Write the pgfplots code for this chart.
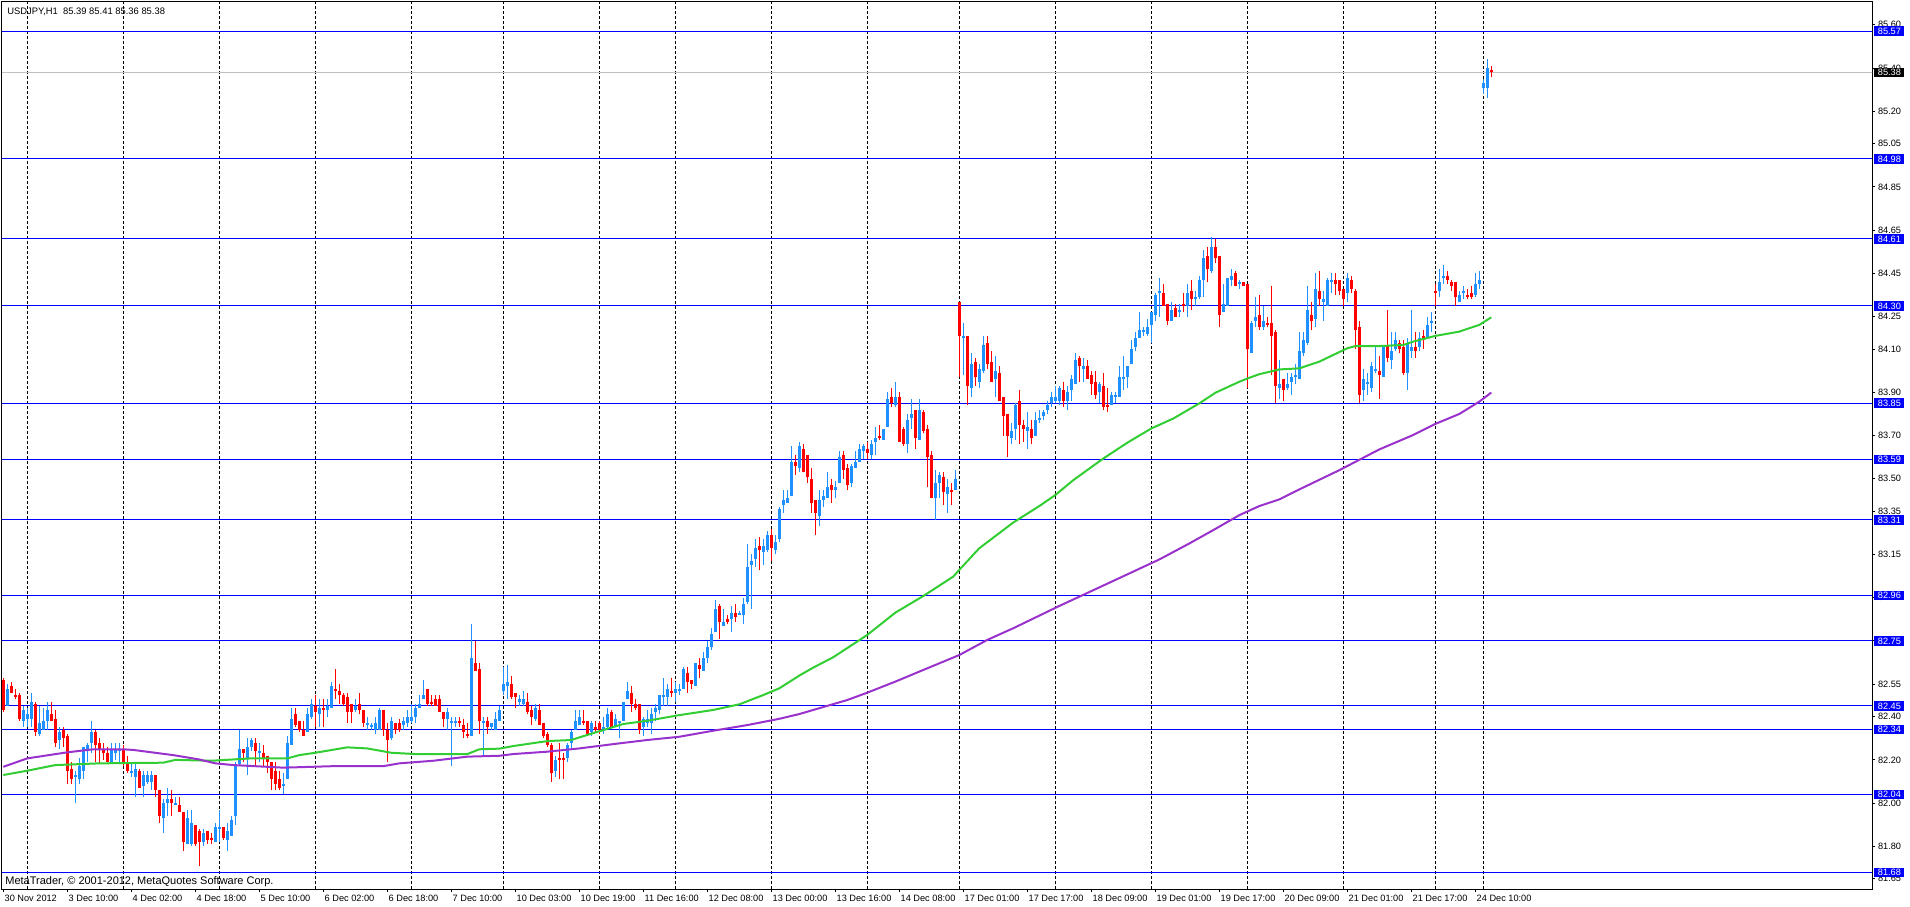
\documentclass[border=0pt]{standalone}
\usepackage{fontspec}
\setmainfont{Liberation Sans}
\usepackage{pgfplots}
\usepackage{pgfplotstable}
\pgfplotsset{compat=1.18}
\definecolor{mtblue}{RGB}{0,0,255}
\definecolor{ma1}{RGB}{50,205,50}
\definecolor{ma2}{RGB}{153,50,204}
\definecolor{bidgray}{RGB}{192,192,192}

\pgfplotstableread{
x o h l c
0 82.57 82.58 82.42 82.43
1 82.45 82.55 82.45 82.53
2 82.54 82.56 82.51 82.51
3 82.50 82.53 82.48 82.49
4 82.50 82.51 82.38 82.39
5 82.38 82.45 82.35 82.43
6 82.39 82.44 82.35 82.41
7 82.39 82.51 82.35 82.47
8 82.46 82.47 82.31 82.33
9 82.32 82.45 82.31 82.37
10 82.34 82.44 82.34 82.38
11 82.38 82.47 82.34 82.43
12 82.41 82.47 82.38 82.38
13 82.39 82.43 82.26 82.28
14 82.29 82.35 82.25 82.33
15 82.34 82.35 82.26 82.30
16 82.31 82.32 82.09 82.15
17 82.16 82.19 82.09 82.11
18 82.12 82.15 82.00 82.13
19 82.11 82.21 82.09 82.17
20 82.15 82.26 82.11 82.26
21 82.24 82.28 82.19 82.27
22 82.28 82.38 82.23 82.33
23 82.33 82.34 82.19 82.27
24 82.28 82.30 82.18 82.25
25 82.25 82.28 82.20 82.23
26 82.23 82.26 82.19 82.19
27 82.19 82.28 82.19 82.25
28 82.23 82.28 82.20 82.25
29 82.24 82.28 82.19 82.25
30 82.25 82.27 82.17 82.19
31 82.18 82.22 82.14 82.15
32 82.14 82.18 82.12 82.15
33 82.12 82.18 82.03 82.16
34 82.15 82.16 82.07 82.07
35 82.08 82.15 82.03 82.13
36 82.10 82.15 82.09 82.13
37 82.10 82.15 82.06 82.13
38 82.13 82.13 82.03 82.06
39 82.06 82.06 81.91 81.94
40 81.93 82.02 81.86 82.00
41 82.00 82.07 81.94 82.02
42 82.02 82.06 81.94 82.00
43 81.99 82.03 81.99 82.00
44 81.99 82.03 81.96 81.96
45 81.96 81.96 81.78 81.82
46 81.81 81.97 81.81 81.93
47 81.81 81.97 81.80 81.91
48 81.90 81.90 81.80 81.81
49 81.87 81.88 81.71 81.82
50 81.82 81.88 81.80 81.86
51 81.87 81.87 81.81 81.83
52 81.84 81.86 81.81 81.83
53 81.82 81.91 81.82 81.89
54 81.88 81.97 81.82 81.89
55 81.89 81.89 81.83 81.84
56 81.83 81.91 81.78 81.87
57 81.85 81.94 81.85 81.92
58 81.94 82.19 81.90 82.18
59 82.18 82.34 82.17 82.25
60 82.25 82.25 82.19 82.23
61 82.21 82.30 82.13 82.26
62 82.26 82.30 82.24 82.29
63 82.28 82.30 82.17 82.24
64 82.23 82.28 82.19 82.24
65 82.23 82.27 82.17 82.21
66 82.22 82.22 82.14 82.19
67 82.19 82.19 82.06 82.11
68 82.15 82.19 82.06 82.09
69 82.11 82.15 82.06 82.07
70 82.08 82.14 82.04 82.09
71 82.11 82.31 82.11 82.28
72 82.27 82.44 82.27 82.39
73 82.41 82.44 82.35 82.36
74 82.38 82.38 82.33 82.34
75 82.34 82.38 82.31 82.31
76 82.33 82.44 82.33 82.41
77 82.40 82.48 82.39 82.46
78 82.45 82.50 82.35 82.42
79 82.41 82.48 82.35 82.44
80 82.44 82.48 82.35 82.43
81 82.43 82.48 82.40 82.45
82 82.44 82.56 82.44 82.54
83 82.53 82.62 82.48 82.52
84 82.52 82.55 82.46 82.50
85 82.50 82.51 82.45 82.46
86 82.49 82.51 82.37 82.42
87 82.46 82.46 82.37 82.42
88 82.43 82.48 82.42 82.45
89 82.46 82.51 82.41 82.43
90 82.43 82.43 82.35 82.37
91 82.36 82.40 82.34 82.37
92 82.35 82.37 82.34 82.36
93 82.34 82.40 82.32 82.37
94 82.34 82.44 82.34 82.43
95 82.43 82.43 82.31 82.34
96 82.34 82.37 82.19 82.29
97 82.30 82.40 82.29 82.38
98 82.37 82.37 82.32 82.34
99 82.37 82.39 82.33 82.34
100 82.36 82.40 82.34 82.38
101 82.37 82.43 82.35 82.40
102 82.38 82.46 82.37 82.40
103 82.40 82.46 82.37 82.44
104 82.44 82.50 82.44 82.46
105 82.48 82.57 82.48 82.50
106 82.53 82.53 82.45 82.46
107 82.47 82.50 82.45 82.46
108 82.48 82.50 82.45 82.45
109 82.48 82.50 82.42 82.42
110 82.42 82.42 82.35 82.39
111 82.39 82.44 82.34 82.42
112 82.37 82.40 82.17 82.38
113 82.37 82.40 82.35 82.38
114 82.38 82.40 82.35 82.37
115 82.36 82.39 82.30 82.33
116 82.32 82.37 82.30 82.31
117 82.31 82.83 82.31 82.67
118 82.65 82.75 82.61 82.61
119 82.62 82.65 82.32 82.38
120 82.37 82.40 82.22 82.38
121 82.38 82.40 82.32 82.35
122 82.35 82.37 82.34 82.37
123 82.34 82.42 82.34 82.39
124 82.38 82.45 82.38 82.43
125 82.52 82.63 82.50 82.55
126 82.54 82.64 82.48 82.56
127 82.55 82.59 82.48 82.49
128 82.51 82.51 82.44 82.49
129 82.47 82.50 82.45 82.48
130 82.46 82.52 82.45 82.48
131 82.47 82.51 82.41 82.42
132 82.43 82.45 82.36 82.40
133 82.39 82.46 82.38 82.44
134 82.43 82.46 82.36 82.36
135 82.37 82.37 82.30 82.31
136 82.32 82.33 82.26 82.27
137 82.27 82.28 82.10 82.14
138 82.15 82.22 82.12 82.20
139 82.21 82.28 82.11 82.20
140 82.21 82.23 82.11 82.20
141 82.21 82.28 82.19 82.27
142 82.28 82.34 82.25 82.33
143 82.34 82.43 82.34 82.38
144 82.36 82.43 82.36 82.40
145 82.38 82.43 82.36 82.37
146 82.38 82.38 82.31 82.32
147 82.33 82.38 82.31 82.37
148 82.35 82.38 82.33 82.34
149 82.37 82.38 82.32 82.34
150 82.34 82.40 82.32 82.35
151 82.35 82.44 82.34 82.41
152 82.42 82.43 82.35 82.35
153 82.35 82.41 82.35 82.39
154 82.37 82.38 82.30 82.38
155 82.38 82.47 82.38 82.47
156 82.48 82.56 82.48 82.52
157 82.51 82.54 82.42 82.46
158 82.46 82.48 82.43 82.44
159 82.46 82.46 82.32 82.34
160 82.35 82.40 82.31 82.39
161 82.37 82.43 82.35 82.39
162 82.37 82.44 82.32 82.41
163 82.42 82.46 82.38 82.44
164 82.43 82.50 82.41 82.50
165 82.49 82.58 82.45 82.50
166 82.49 82.55 82.45 82.53
167 82.52 82.58 82.49 82.51
168 82.51 82.56 82.47 82.53
169 82.52 82.55 82.50 82.53
170 82.53 82.63 82.53 82.62
171 82.60 82.63 82.51 82.56
172 82.57 82.57 82.53 82.55
173 82.54 82.65 82.54 82.65
174 82.64 82.67 82.58 82.62
175 82.61 82.70 82.61 82.67
176 82.67 82.75 82.65 82.72
177 82.72 82.81 82.71 82.78
178 82.79 82.94 82.79 82.90
179 82.91 82.92 82.76 82.84
180 82.82 82.90 82.82 82.84
181 82.85 82.87 82.83 82.84
182 82.85 82.91 82.79 82.88
183 82.88 82.92 82.84 82.86
184 82.87 82.89 82.87 82.88
185 82.87 82.95 82.83 82.92
186 82.93 83.20 82.92 83.09
187 83.10 83.15 82.90 83.12
188 83.13 83.22 83.09 83.18
189 83.19 83.23 83.08 83.17
190 83.16 83.22 83.10 83.19
191 83.17 83.26 83.16 83.24
192 83.24 83.27 83.12 83.18
193 83.17 83.24 83.15 83.21
194 83.22 83.37 83.21 83.36
195 83.38 83.45 83.34 83.40
196 83.39 83.45 83.39 83.41
197 83.42 83.65 83.42 83.58
198 83.58 83.61 83.52 83.56
199 83.55 83.67 83.53 83.65
200 83.64 83.66 83.53 83.53
201 83.61 83.61 83.48 83.51
202 83.50 83.55 83.34 83.39
203 83.40 83.40 83.24 83.34
204 83.33 83.45 83.28 83.40
205 83.40 83.45 83.37 83.42
206 83.41 83.53 83.41 83.46
207 83.47 83.50 83.39 83.45
208 83.45 83.49 83.41 83.46
209 83.48 83.63 83.48 83.60
210 83.61 83.63 83.50 83.54
211 83.55 83.57 83.45 83.47
212 83.48 83.57 83.46 83.56
213 83.55 83.63 83.55 83.58
214 83.58 83.66 83.58 83.64
215 83.63 83.66 83.59 83.65
216 83.64 83.67 83.59 83.62
217 83.61 83.68 83.59 83.66
218 83.67 83.74 83.61 83.69
219 83.70 83.75 83.68 83.69
220 83.68 83.73 83.68 83.73
221 83.74 83.90 83.74 83.87
222 83.88 83.92 83.83 83.85
223 83.84 83.95 83.83 83.88
224 83.88 83.90 83.67 83.67
225 83.73 83.74 83.65 83.66
226 83.66 83.80 83.62 83.77
227 83.78 83.87 83.73 83.80
228 83.82 83.82 83.64 83.69
229 83.68 83.87 83.68 83.82
230 83.81 83.82 83.71 83.72
231 83.73 83.75 83.46 83.60
232 83.61 83.63 83.41 83.41
233 83.41 83.54 83.31 83.48
234 83.48 83.53 83.41 83.52
235 83.51 83.53 83.38 83.44
236 83.43 83.50 83.34 83.46
237 83.45 83.48 83.38 83.44
238 83.45 83.54 83.45 83.50
239 84.32 84.32 83.97 84.16
240 84.15 84.22 83.98 84.16
241 84.16 84.16 83.84 83.93
242 83.92 84.08 83.88 84.03
243 84.04 84.06 83.93 83.97
244 83.95 84.03 83.92 84.01
245 84.00 84.16 83.99 84.12
246 84.13 84.16 84.01 84.03
247 84.04 84.09 83.95 83.95
248 83.96 84.07 83.88 84.00
249 83.99 84.02 83.86 83.86
250 83.88 83.88 83.70 83.79
251 83.80 83.80 83.60 83.70
252 83.69 83.76 83.66 83.72
253 83.73 83.85 83.68 83.84
254 83.86 83.91 83.66 83.75
255 83.75 83.77 83.67 83.73
256 83.72 83.81 83.64 83.74
257 83.73 83.77 83.66 83.69
258 83.70 83.81 83.70 83.77
259 83.77 83.82 83.76 83.78
260 83.79 83.82 83.77 83.81
261 83.82 83.86 83.80 83.84
262 83.85 83.90 83.83 83.88
263 83.86 83.93 83.85 83.88
264 83.86 83.93 83.84 83.92
265 83.91 83.95 83.83 83.86
266 83.86 83.93 83.82 83.90
267 83.91 83.98 83.86 83.96
268 83.94 84.08 83.94 84.05
269 84.06 84.07 83.95 84.02
270 84.01 84.06 83.95 84.02
271 84.02 84.05 83.96 83.96
272 83.98 84.00 83.89 83.94
273 83.95 84.00 83.87 83.89
274 83.90 83.95 83.85 83.94
275 83.93 83.99 83.82 83.83
276 83.84 83.92 83.81 83.83
277 83.84 83.90 83.84 83.89
278 83.88 83.90 83.85 83.89
279 83.88 84.02 83.88 83.97
280 83.96 84.07 83.91 83.97
281 83.97 84.02 83.92 84.02
282 84.03 84.14 84.03 84.10
283 84.11 84.18 84.09 84.15
284 84.15 84.27 84.15 84.19
285 84.18 84.20 84.16 84.19
286 84.17 84.24 84.16 84.20
287 84.21 84.27 84.13 84.27
288 84.26 84.36 84.23 84.35
289 84.36 84.43 84.25 84.37
290 84.36 84.40 84.30 84.30
291 84.31 84.31 84.21 84.23
292 84.23 84.32 84.23 84.28
293 84.29 84.31 84.25 84.25
294 84.27 84.31 84.25 84.28
295 84.31 84.36 84.27 84.30
296 84.30 84.40 84.25 84.36
297 84.37 84.42 84.28 84.33
298 84.33 84.37 84.30 84.34
299 84.34 84.44 84.33 84.42
300 84.42 84.56 84.34 84.52
301 84.53 84.57 84.41 84.47
302 84.46 84.62 84.45 84.57
303 84.57 84.61 84.50 84.52
304 84.53 84.53 84.20 84.26
305 84.27 84.40 84.27 84.31
306 84.30 84.43 84.30 84.43
307 84.42 84.47 84.39 84.44
308 84.45 84.46 84.39 84.39
309 84.40 84.42 84.38 84.41
310 84.41 84.41 84.39 84.39
311 84.40 84.40 83.92 84.10
312 84.08 84.23 84.08 84.22
313 84.23 84.34 84.20 84.25
314 84.26 84.35 84.19 84.20
315 84.20 84.30 84.19 84.23
316 84.22 84.25 84.20 84.21
317 84.22 84.39 83.98 84.16
318 84.18 84.19 83.85 83.93
319 83.92 84.05 83.87 83.94
320 83.96 83.96 83.86 83.91
321 83.92 83.99 83.91 83.94
322 83.95 83.99 83.89 83.97
323 83.97 84.03 83.94 83.98
324 83.96 84.18 83.96 84.09
325 84.08 84.18 84.07 84.14
326 84.13 84.39 84.12 84.28
327 84.26 84.32 84.19 84.23
328 84.24 84.45 84.20 84.38
329 84.37 84.46 84.30 84.33
330 84.32 84.37 84.23 84.33
331 84.30 84.43 84.30 84.42
332 84.41 84.45 84.36 84.42
333 84.42 84.45 84.35 84.40
334 84.42 84.42 84.35 84.37
335 84.38 84.38 84.30 84.33
336 84.36 84.45 84.32 84.43
337 84.42 84.44 84.36 84.38
338 84.37 84.38 84.10 84.19
339 84.20 84.23 83.85 83.89
340 83.91 84.01 83.86 83.96
341 83.94 83.99 83.89 83.95
342 83.92 84.04 83.90 84.02
343 84.00 84.11 83.99 84.01
344 84.00 84.07 83.87 83.98
345 83.97 84.11 83.97 84.11
346 84.12 84.28 84.04 84.06
347 84.05 84.18 84.01 84.09
348 84.10 84.18 84.09 84.14
349 84.13 84.14 84.08 84.10
350 84.11 84.14 83.98 83.99
351 83.99 84.15 83.91 84.13
352 84.09 84.28 84.06 84.11
353 84.11 84.18 84.06 84.09
354 84.11 84.18 84.09 84.15
355 84.16 84.19 84.10 84.14
356 84.15 84.25 84.15 84.21
357 84.22 84.27 84.18 84.23
358 84.37 84.40 84.30 84.36
359 84.37 84.47 84.34 84.41
360 84.43 84.49 84.40 84.44
361 84.44 84.46 84.40 84.42
362 84.41 84.42 84.37 84.39
363 84.41 84.41 84.30 84.34
364 84.32 84.37 84.32 84.35
365 84.36 84.39 84.33 84.37
366 84.35 84.38 84.33 84.34
367 84.36 84.39 84.33 84.34
368 84.35 84.45 84.34 84.40
369 84.40 84.46 84.38 84.42
370 85.31 85.35 85.28 85.33
371 85.31 85.44 85.26 85.40
372 85.39 85.41 85.36 85.38
}\candles

\begin{document}
\begin{tikzpicture}[
  lvl/.style={fill=mtblue, text=white, anchor=west, inner sep=0pt,
    minimum width=15pt, minimum height=4.8pt, xshift=1pt,
    font=\fontsize{4.6}{5}\selectfont}]
\useasboundingbox (0,0) rectangle (955pt,453pt);
\begin{axis}[
  at={(1pt,8.5pt)}, anchor=south west,
  scale only axis, width=935pt, height=443.5pt,
  xmin=-0.325, xmax=467.175, ymin=81.6028, ymax=85.7055,
  axis line style={line width=0.5pt, black},
  tick align=outside, major tick length=1.5pt,
  tick style={black, line width=0.5pt},
  xtick pos=lower, ytick pos=upper, yticklabel pos=upper,
  xtick={0,16,...,368},
  xticklabels={30 Nov 2012, 3 Dec 10:00, 4 Dec 02:00, 4 Dec 18:00, 5 Dec 10:00, 6 Dec 02:00, 6 Dec 18:00, 7 Dec 10:00, 10 Dec 03:00, 10 Dec 19:00, 11 Dec 16:00, 12 Dec 08:00, 13 Dec 00:00, 13 Dec 16:00, 14 Dec 08:00, 17 Dec 01:00, 17 Dec 17:00, 18 Dec 09:00, 19 Dec 01:00, 19 Dec 17:00, 20 Dec 09:00, 21 Dec 01:00, 21 Dec 17:00, 24 Dec 10:00},
  xticklabel style={anchor=base west, inner sep=0pt, yshift=-4.5pt, xshift=0.5pt, font=\fontsize{4.6}{5}\selectfont},
  ytick={81.65,81.80,82.00,82.20,82.40,82.55,82.75,82.95,83.15,83.35,83.50,83.70,83.90,84.10,84.25,84.45,84.65,84.85,85.05,85.20,85.40,85.60},
  yticklabel style={anchor=west, inner sep=0pt, xshift=1.3pt, font=\fontsize{4.6}{5}\selectfont,
    /pgf/number format/.cd, fixed, fixed zerofill, precision=2, assume math mode=true},
  extra x ticks={6,30,54,78,102,125,149,168,192,216,239,263,287,311,335,358,370},
  extra x tick labels={},
  extra x tick style={grid=major, major tick length=0pt},
  major grid style={black, line width=0.5pt, dash pattern=on 1.5pt off 1pt},
  colormap={updown}{rgb255=(255,0,0) rgb255=(30,144,255)},
  point meta min=-0.001, point meta max=0.001,
]
% horizontal levels
\pgfplotsinvokeforeach{85.57,84.98,84.61,84.30,83.85,83.59,83.31,82.96,82.75,82.45,82.34,82.04,81.68}{
  \addplot[mtblue, line width=0.5pt, no markers, forget plot] coordinates {(-1,#1) (470,#1)};
}
\addplot[bidgray, line width=0.5pt, no markers, forget plot] coordinates {(-1,85.38) (470,85.38)};
% wicks
\addplot[line width=0.5pt, no markers, point meta={\thisrow{c}-\thisrow{o}},
  quiver={u=0, v={\thisrow{h}-\thisrow{l}}, colored=mapped color}]
  table[x=x, y=l]{\candles};
% bodies
\addplot[line width=1.5pt, no markers, point meta={\thisrow{c}-\thisrow{o}},
  quiver={u=0, v={\thisrow{c}-\thisrow{o}}, colored=mapped color}]
  table[x=x, y=o]{\candles};
% moving averages
\addplot[ma1, line width=1pt, no markers] coordinates {
(0,82.130) (6,82.150) (13,82.176) (24,82.184) (40,82.187) (43,82.200) (52,82.196) (62,82.207) (71,82.207) (74,82.222) (78,82.233) (86,82.258) (91,82.253) (97,82.233) (103,82.227) (116,82.227) (119,82.249) (124,82.252) (127.5,82.264) (136,82.287) (142,82.292) (144,82.304) (150,82.338) (155,82.366) (161,82.381) (169,82.407) (177.5,82.431) (184,82.457) (190,82.500) (194,82.531) (199,82.590) (202.5,82.627) (207.5,82.675) (216,82.778) (223,82.881) (230,82.958) (237.5,83.048) (239,83.079) (244,83.179) (252.5,83.298) (259,83.374) (263,83.425) (267.5,83.494) (275,83.594) (281,83.667) (287,83.733) (292.5,83.779) (299,83.849) (303,83.898) (309,83.949) (311,83.964) (314,83.984) (319,84.006) (324,84.011) (329,84.042) (336,84.104) (338,84.114) (344,84.114) (350,84.119) (352.5,84.135) (358,84.161) (364,84.181) (369,84.212) (372,84.247)
};
\addplot[ma2, line width=1pt, no markers] coordinates {
(0,82.168) (6,82.207) (16,82.235) (22.5,82.249) (30,82.249) (32.5,82.246) (42.5,82.222) (49,82.202) (53,82.184) (57.5,82.176) (66,82.168) (70,82.164) (82.5,82.171) (95,82.171) (99,82.184) (107.5,82.196) (116,82.215) (124,82.219) (127.5,82.227) (136,82.238) (144,82.253) (152.5,82.273) (161,82.292) (169,82.307) (177.5,82.335) (186,82.361) (194,82.390) (199,82.412) (202.5,82.431) (211,82.477) (216,82.511) (223,82.562) (230,82.616) (239,82.685) (246,82.755) (252.5,82.809) (264,82.912) (276,83.015) (289,83.127) (296.5,83.201) (302.5,83.263) (309,83.332) (314,83.374) (319,83.405) (324,83.451) (334,83.540) (344,83.636) (352.5,83.703) (358,83.754) (364,83.800) (369,83.857) (372,83.899)
};
% texts
\node[anchor=west, inner sep=0pt, xshift=2.5pt, yshift=-4.75pt, font=\fontsize{4.7}{5}\selectfont] at (rel axis cs:0,1) {USDJPY,H1\ \ 85.39 85.41 85.36 85.38};
\node[anchor=base west, inner sep=0pt, xshift=1.5pt, yshift=2.25pt, font=\fontsize{5.5}{6}\selectfont] at (rel axis cs:0,0) {MetaTrader, © 2001-2012, MetaQuotes Software Corp.};
% anchors for the level boxes
\coordinate (B0) at (axis cs:467.175,85.38);
\coordinate (B1) at (axis cs:467.175,85.57);
\coordinate (B2) at (axis cs:467.175,84.98);
\coordinate (B3) at (axis cs:467.175,84.61);
\coordinate (B4) at (axis cs:467.175,84.30);
\coordinate (B5) at (axis cs:467.175,83.85);
\coordinate (B6) at (axis cs:467.175,83.59);
\coordinate (B7) at (axis cs:467.175,83.31);
\coordinate (B8) at (axis cs:467.175,82.96);
\coordinate (B9) at (axis cs:467.175,82.75);
\coordinate (B10) at (axis cs:467.175,82.45);
\coordinate (B11) at (axis cs:467.175,82.34);
\coordinate (B12) at (axis cs:467.175,82.04);
\coordinate (B13) at (axis cs:467.175,81.68);
\end{axis}
\foreach \n/\t in {B1/85.57,B2/84.98,B3/84.61,B4/84.30,B5/83.85,B6/83.59,B7/83.31,B8/82.96,B9/82.75,B10/82.45,B11/82.34,B12/82.04,B13/81.68}{
  \node[lvl] at (\n) {\t};
}
\node[lvl, fill=black] at (B0) {85.38};
\end{tikzpicture}
\end{document}
